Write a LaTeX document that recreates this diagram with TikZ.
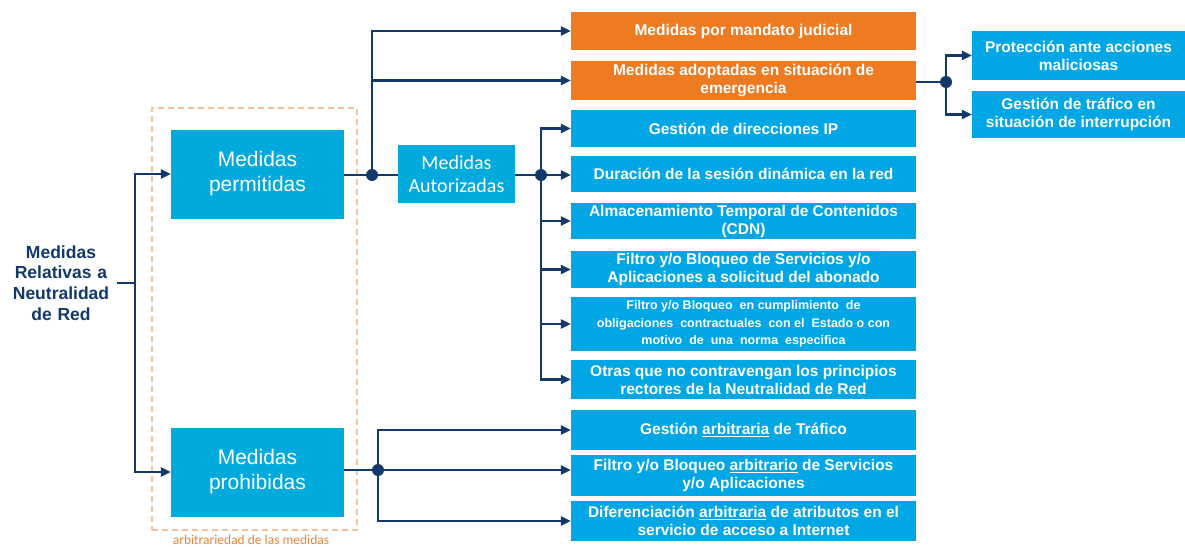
\documentclass[tikz,border=0pt]{standalone}
\usepackage{fontspec}
\setmainfont{Liberation Sans}
\newfontfamily\calfont{Carlito}
\usetikzlibrary{arrows.meta}
\definecolor{navy}{HTML}{12396A}
\definecolor{cyanbox}{HTML}{00A7E4}
\definecolor{cyanbig}{HTML}{00AADC}
\definecolor{orangebox}{HTML}{EE7B22}
\definecolor{dashorange}{HTML}{F7C29A}
\definecolor{labelorange}{HTML}{E8853D}
\tikzset{
  bbox/.style={fill=cyanbox, text=white, font=\fontsize{15.5}{18}\selectfont\bfseries, align=center, inner sep=1pt, minimum width=345},
  obox/.style={bbox, fill=orangebox},
  bigbox/.style={fill=cyanbig, text=white, font=\fontsize{21}{25}\selectfont, align=center, minimum width=173, minimum height=89},
  conn/.style={draw=navy, line width=2.4pt},
  arr/.style={conn, -{Triangle[length=10pt,width=9pt]}},
  dot/.style={circle, fill=navy, inner sep=0pt, minimum size=12pt},
}
\begin{document}
\begin{tikzpicture}[x=1pt,y=-1pt]
\useasboundingbox (0,0) rectangle (1185,546);
% dashed frame
\node[draw=dashorange, dash pattern=on 6pt off 4pt, line width=1.4pt, minimum width=205, minimum height=422, inner sep=0pt] (frame) at (254.5,319) {};
\node[text=labelorange, font=\calfont\fontsize{13.5}{15}\selectfont, inner sep=1pt] (framelbl) at (251,540) {arbitrariedad de las medidas};
% root text
\node[text=navy, font=\fontsize{17.5}{20.8}\selectfont\bfseries, align=center, text width=110, inner sep=1pt] (rel) at (61,283) {Medidas\\Relativas a\\Neutralidad\\de Red};
% main boxes
\node[bigbox] (perm) at (257.5,174) {\raisebox{-4pt}{\parbox{160pt}{\centering Medidas\\permitidas}}};
\node[bigbox] (proh) at (257.5,472) {\raisebox{-4pt}{\parbox{160pt}{\centering Medidas\\prohibidas}}};
\node[fill=cyanbig, text=white, font=\calfont\fontsize{20}{23}\selectfont, align=center, minimum width=117, minimum height=58, inner sep=1pt] (aut) at (456.5,174) {Medidas\\Autorizadas};
% orange boxes
\node[obox, minimum height=38] (ord1) at (743.5,31) {Medidas por mandato judicial};
\node[obox, minimum height=39] (ord2) at (743.5,80.5) {Medidas adoptadas en situación de\\emergencia};
% right boxes
\node[bbox, minimum width=213, minimum height=49] (prot) at (1078.5,55.5) {Protección ante acciones\\maliciosas};
\node[bbox, minimum width=213, minimum height=47] (gtraf) at (1078.5,114.5) {Gestión de tráfico en\\situación de interrupción};
% authorized list
\node[bbox, minimum height=37] (ip) at (743.5,128.5) {Gestión de direcciones IP};
\node[bbox, minimum height=36] (dur) at (743.5,174) {Duración de la sesión dinámica en la red};
\node[bbox, minimum height=36] (cdn) at (743.5,221) {Almacenamiento Temporal de Contenidos\\(CDN)};
\node[bbox, minimum height=37] (filt) at (743.5,269.5) {Filtro y/o Bloqueo de Servicios y/o\\Aplicaciones a solicitud del abonado};
\node[bbox, minimum height=54, font=\fontsize{12.5}{17.5}\selectfont\bfseries] (contr) at (743.5,324) {Filtro y/o Bloqueo\ \ en cumplimiento\ \ de\\obligaciones\ \ contractuales\ \ con el\ \ Estado o con\\motivo\ \ de\ \ una\ \ norma\ \ especifica};
\node[bbox, minimum height=39] (otras) at (743.5,379.5) {Otras que no contravengan los principios\\rectores de la Neutralidad de Red};
% prohibited list
\node[bbox, minimum height=40] (garb) at (743.5,430) {Gestión \underline{arbitraria} de Tráfico};
\node[bbox, minimum height=41] (farb) at (743.5,475.5) {Filtro y/o Bloqueo \underline{arbitrario} de Servicios\\y/o Aplicaciones};
\node[bbox, minimum height=40] (darb) at (743.5,521) {Diferenciación \underline{arbitraria} de atributos en el\\servicio de acceso a Internet};
% junctions
\coordinate (j0) at (135,283);
\node[dot] (j1) at (372,175) {};
\node[dot] (j2) at (541,175) {};
\node[dot] (j3) at (946,82) {};
\node[dot] (j4) at (378,470) {};
% connectors
\draw[conn] (rel.east |- j0) -- (j0);
\draw[arr] (j0) |- (perm.west);
\draw[arr] (j0) |- (proh.west);
\draw[conn] (perm.east |- j1) -- (j1.center);
\draw[conn] (j1.center) -- (aut.west |- j1);
\draw[arr] (j1.center) |- (ord1.west);
\draw[arr] (j1.center) |- (ord2.west);
\draw[conn] (aut.east |- j2) -- (j2.center);
\draw[arr] (j2.center) |- (ip.west);
\draw[arr] (j2.center) -- (dur.west |- j2);
\draw[arr] (j2.center) |- (cdn.west);
\draw[arr] (j2.center) |- (filt.west);
\draw[arr] (j2.center) |- (contr.west);
\draw[arr] (j2.center) |- (otras.west);
\draw[conn] (ord2.east |- j3) -- (j3.center);
\draw[arr] (j3.center) |- (prot.west);
\draw[arr] (j3.center) |- (gtraf.west);
\draw[conn] (proh.east |- j4) -- (j4.center);
\draw[arr] (j4.center) |- (garb.west);
\draw[arr] (j4.center) -- (farb.west |- j4);
\draw[arr] (j4.center) |- (darb.west);
\end{tikzpicture}
\end{document}
